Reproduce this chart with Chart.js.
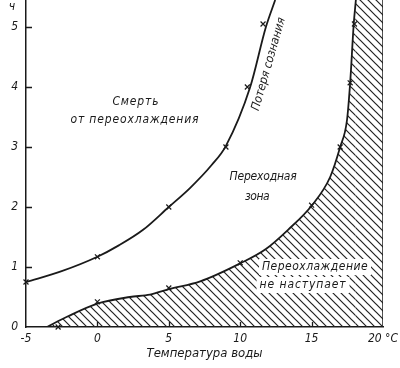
<!DOCTYPE html>
<html>
<head>
<meta charset="utf-8">
<script src="https://cdn.jsdelivr.net/npm/chart.js@4/dist/chart.umd.min.js"></script>
<style>
  html, body { margin: 0; padding: 0; background: #fff; }
</style>
</head>
<body>
<canvas id="coldChart" width="400" height="368"></canvas>
<script>
// water temperature (°C) vs. time (h)
const lossT = [-5, -2.5, 0, 1.5, 3.2, 5, 6.5, 8, 9, 10.7, 11.8, 12.45];
const lossH = [0.75, 0.93, 1.17, 1.36, 1.62, 2.0, 2.32, 2.7, 3.02, 4.0, 5.0, 5.45];
const lossMarkT = [-5, 0, 5, 9, 10.5, 11.6];
const lossMarkH = [0.75, 1.17, 2.0, 3.0, 4.0, 5.05];

const safeT = [-3.53, -2.13, 0, 2.28, 3.68, 5, 7.2, 10, 11.8, 13.35, 15.03, 16.3, 17, 17.48, 17.7, 17.95, 18.1];
const safeH = [0, 0.17, 0.39, 0.5, 0.54, 0.63, 0.76, 1.06, 1.3, 1.62, 2.03, 2.5, 3.0, 3.45, 4.07, 5.05, 5.45];
const safeMarkT = [-2.75, 0, 5, 10, 15, 17, 17.7, 18];
const safeMarkH = [0, 0.42, 0.65, 1.07, 2.03, 3.0, 4.07, 5.05];

// hatched strip right of the curve up to 20 °C
const capT = [18.1, 20];
const capH = [5.45, 5.45];
const edgeT = [20, 20];
const edgeH = [0, 5.45];

const xTicks = [-5, 0, 5, 10, 15, 20];
const yTicks = [0, 1, 2, 3, 4, 5];

const ink = '#1a1a1a';
const family = "'Liberation Sans Narrow', 'DejaVu Sans Condensed', sans-serif";

const notes = [
  { text: 'Смерть', t: 2.7, h: 3.75, w: 47 },
  { text: 'от переохлаждения', t: 2.63, h: 3.45, w: 129 },
  { text: 'Переходная', t: 11.6, h: 2.5, w: 67 },
  { text: 'зона', t: 11.18, h: 2.17, w: 24 },
  { text: 'Переохлаждение', t: 15.24, h: 1.0, w: 106, box: true },
  { text: 'не наступает', t: 14.4, h: 0.7, w: 87, box: true },
  { text: 'Потеря сознания', t: 12.0, h: 4.38, w: 96, rot: -74 }
];

function pts(xs, ys) {
  return xs.map((x, i) => ({ x: x, y: ys[i] }));
}

function makeHatch() {
  const c = document.createElement('canvas');
  c.width = 8; c.height = 8;
  const g = c.getContext('2d');
  g.strokeStyle = '#222';
  g.lineWidth = 1.2;
  g.beginPath();
  g.moveTo(-2, -2); g.lineTo(10, 10);
  g.moveTo(-2, 6); g.lineTo(2, 10);
  g.moveTo(6, -2); g.lineTo(10, 2);
  g.stroke();
  return g.createPattern(c, 'repeat');
}

const decor = {
  id: 'decor',
  afterDatasetsDraw(chart) {
    const ctx = chart.ctx;
    const xs = chart.scales.x, ys = chart.scales.y;
    const area = chart.chartArea;
    ctx.save();
    ctx.strokeStyle = ink;
    ctx.lineWidth = 1.3;
    ctx.beginPath();
    yTicks.slice(1).forEach(v => {
      const py = Math.round(ys.getPixelForValue(v)) + 0.5;
      ctx.moveTo(area.left, py); ctx.lineTo(area.left + 6, py);
    });
    xTicks.slice(1, -1).forEach(v => {
      const px = Math.round(xs.getPixelForValue(v)) + 0.5;
      ctx.moveTo(px, area.bottom); ctx.lineTo(px, area.bottom - 5);
    });
    ctx.stroke();

    ctx.font = 'italic 12px ' + family;
    ctx.fillStyle = ink;
    ctx.textBaseline = 'middle';
    ctx.textAlign = 'left';
    notes.forEach(n => {
      ctx.save();
      ctx.translate(xs.getPixelForValue(n.t), ys.getPixelForValue(n.h));
      if (n.rot) ctx.rotate(n.rot * Math.PI / 180);
      ctx.letterSpacing = '0px';
      const w0 = ctx.measureText(n.text).width;
      const len = [...n.text].length;
      ctx.letterSpacing = ((n.w - w0) / len) + 'px';
      if (n.box) {
        ctx.fillStyle = '#fff';
        ctx.fillRect(-n.w / 2 - 3, -8, n.w + 6, 16);
        ctx.fillStyle = ink;
      }
      ctx.fillText(n.text, -n.w / 2, 0);
      ctx.restore();
    });

    ctx.font = 'italic 12px ' + family;
    ctx.letterSpacing = '0px';
    ctx.textAlign = 'center';
    ctx.fillText('ч', 12, 7);
    ctx.restore();
  }
};

const tickFont = { family: family, size: 12, style: 'italic' };

new Chart(document.getElementById('coldChart'), {
  type: 'line',
  data: {
    datasets: [
      {
        data: pts(lossMarkT, lossMarkH), showLine: false, pointStyle: 'crossRot', clip: false,
        pointRadius: 3.5, borderColor: ink, backgroundColor: ink, borderWidth: 1.2
      },
      {
        data: pts(safeMarkT, safeMarkH), showLine: false, pointStyle: 'crossRot', clip: false,
        pointRadius: 3.5, borderColor: ink, backgroundColor: ink, borderWidth: 1.2
      },
      {
        data: pts(lossT, lossH), borderColor: ink, borderWidth: 1.8, pointRadius: 0,
        cubicInterpolationMode: 'monotone', fill: false
      },
      {
        data: pts(safeT, safeH), borderColor: ink, borderWidth: 1.8, pointRadius: 0,
        cubicInterpolationMode: 'monotone', fill: false
      },
      {
        data: pts(edgeT, edgeH), borderColor: ink, borderWidth: 1.5, pointRadius: 0, fill: false
      },
      {
        data: pts(safeT, safeH), borderWidth: 0, pointRadius: 0, borderColor: 'rgba(0,0,0,0)',
        cubicInterpolationMode: 'monotone', fill: 'origin', backgroundColor: makeHatch()
      },
      {
        data: pts(capT, capH), borderWidth: 0, pointRadius: 0, borderColor: 'rgba(0,0,0,0)',
        fill: 'origin', backgroundColor: makeHatch()
      }
    ]
  },
  options: {
    responsive: false,
    animation: false,
    devicePixelRatio: 1,
    layout: { autoPadding: false, padding: { top: 0, right: 17, left: 0, bottom: 0 } },
    plugins: {
      legend: { display: false },
      tooltip: { enabled: false },
      filler: { drawTime: 'beforeDatasetsDraw' }
    },
    scales: {
      x: {
        type: 'linear', min: -5, max: 20,
        afterBuildTicks: s => { s.ticks = xTicks.map(v => ({ value: v })); },
        afterFit: s => { s.height = 41; s.paddingLeft = 0; s.paddingRight = 0; },
        grid: { drawOnChartArea: false, drawTicks: false },
        border: { color: ink, width: 1.5 },
        ticks: {
          padding: 5, color: ink, font: tickFont, maxRotation: 0,
          callback: v => v === 20 ? '20 °C' : String(v)
        },
        title: {
          display: true, text: 'Температура воды', color: ink,
          font: { family: family, size: 13, style: 'italic' },
          padding: { top: 0, bottom: 7 }
        }
      },
      y: {
        type: 'linear', min: 0, max: 5.45,
        afterBuildTicks: s => { s.ticks = yTicks.map(v => ({ value: v })); },
        afterFit: s => { s.width = 26; s.paddingTop = 0; s.paddingBottom = 0; },
        grid: { drawOnChartArea: false, drawTicks: false },
        border: { color: ink, width: 1.5 },
        ticks: { padding: 8, color: ink, font: tickFont }
      }
    }
  },
  plugins: [decor]
});
</script>
</body>
</html>
